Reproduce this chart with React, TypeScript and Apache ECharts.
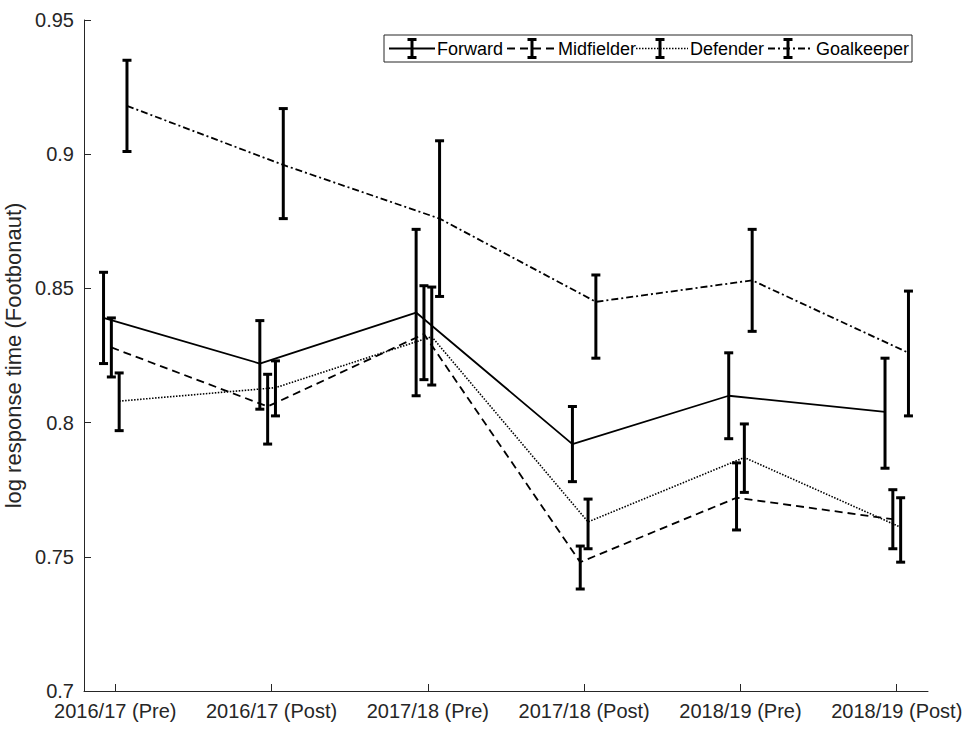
import React, { useEffect, useRef } from "react";
import * as echarts from "echarts";

const categories = [
  "2016/17 (Pre)",
  "2016/17 (Post)",
  "2017/18 (Pre)",
  "2017/18 (Post)",
  "2018/19 (Pre)",
  "2018/19 (Post)",
];

const seriesNames = ["Forward", "Midfielder", "Defender", "Goalkeeper"];
const offsets = [-0.075, -0.025, 0.025, 0.075];

const forwardMean = [0.839, 0.822, 0.841, 0.792, 0.810, 0.804];
const forwardLow = [0.822, 0.805, 0.810, 0.778, 0.794, 0.783];
const forwardHigh = [0.856, 0.838, 0.872, 0.806, 0.826, 0.824];

const midfielderMean = [0.828, 0.806, 0.833, 0.748, 0.772, 0.764];
const midfielderLow = [0.817, 0.792, 0.816, 0.738, 0.760, 0.753];
const midfielderHigh = [0.839, 0.818, 0.851, 0.754, 0.785, 0.775];

const defenderMean = [0.808, 0.813, 0.832, 0.763, 0.787, 0.761];
const defenderLow = [0.797, 0.8025, 0.814, 0.753, 0.774, 0.748];
const defenderHigh = [0.8185, 0.823, 0.8505, 0.7715, 0.7995, 0.772];

const goalkeeperMean = [0.918, 0.896, 0.876, 0.845, 0.853, 0.826];
const goalkeeperLow = [0.901, 0.876, 0.847, 0.824, 0.834, 0.8025];
const goalkeeperHigh = [0.935, 0.917, 0.905, 0.855, 0.872, 0.849];

const yTicks = [0.7, 0.75, 0.8, 0.85, 0.9, 0.95];

const FONT = "'Liberation Sans', Arial, Helvetica, sans-serif";
const dashes: (number[] | null)[] = [null, [8, 5], [1.5, 1.5], [7, 3, 2, 3]];
const widths = [1.8, 1.8, 1.6, 1.8];

const means = [forwardMean, midfielderMean, defenderMean, goalkeeperMean];
const lows = [forwardLow, midfielderLow, defenderLow, goalkeeperLow];
const highs = [forwardHigh, midfielderHigh, defenderHigh, goalkeeperHigh];

function lineStyleFor(i: number) {
  const d = dashes[i];
  return {
    color: "#000",
    width: widths[i],
    type: d ? (d as any) : "solid",
  };
}

function legendGraphics() {
  const items = [
    { x1: 389, x2: 435, bar: 412, text: 437 },
    { x1: 507, x2: 556, bar: 532, text: 558 },
    { x1: 636, x2: 688, bar: 660, text: 690 },
    { x1: 768, x2: 813, bar: 788, text: 816 },
  ];
  const cy = 48.5;
  const out: any[] = [
    {
      type: "rect",
      shape: { x: 384, y: 35, width: 528, height: 27 },
      style: { fill: "#fff", stroke: "#262626", lineWidth: 1 },
      z: 100,
    },
  ];
  items.forEach((it, i) => {
    const d = dashes[i];
    out.push({
      type: "line",
      shape: { x1: it.x1, y1: cy, x2: it.x2, y2: cy },
      style: { stroke: "#000", lineWidth: widths[i], lineDash: d || undefined },
      z: 101,
    });
    const bs = { stroke: "#000", lineWidth: 3 };
    out.push({ type: "line", shape: { x1: it.bar, y1: cy - 9, x2: it.bar, y2: cy + 9 }, style: bs, z: 102 });
    out.push({ type: "line", shape: { x1: it.bar - 4.5, y1: cy - 9, x2: it.bar + 4.5, y2: cy - 9 }, style: bs, z: 102 });
    out.push({ type: "line", shape: { x1: it.bar - 4.5, y1: cy + 9, x2: it.bar + 4.5, y2: cy + 9 }, style: bs, z: 102 });
    out.push({
      type: "text",
      x: it.text,
      y: cy,
      style: {
        text: seriesNames[i],
        fontSize: 18,
        fontFamily: FONT,
        fill: "#000",
        verticalAlign: "middle",
        align: "left",
      },
      z: 102,
    });
  });
  return out;
}

export default function App() {
  const ref = useRef<HTMLDivElement>(null);
  useEffect(() => {
    if (!ref.current) return;
    const chart = echarts.init(ref.current, undefined, { renderer: "svg" });
    const tickVals = categories.map((_, i) => i + 1);

    const lineSeries = seriesNames.map((name, s) => ({
      name,
      type: "line",
      data: means[s].map((v, i) => [i + 1 + offsets[s], v]),
      symbol: "none",
      lineStyle: lineStyleFor(s),
      z: 2,
    }));

    const errSeries = seriesNames.map((name, s) => ({
      name: name + " err",
      type: "custom",
      data: means[s].map((_, i) => [i + 1 + offsets[s], lows[s][i], highs[s][i]]),
      encode: { x: 0, y: [1, 2] },
      z: 3,
      renderItem: (params: any, api: any) => {
        const x = api.value(0);
        const p1 = api.coord([x, api.value(1)]);
        const p2 = api.coord([x, api.value(2)]);
        const hw = 4.5;
        const style = { stroke: "#000", lineWidth: 3, fill: "none" };
        return {
          type: "group",
          children: [
            { type: "line", shape: { x1: p1[0], y1: p1[1], x2: p2[0], y2: p2[1] }, style },
            { type: "line", shape: { x1: p1[0] - hw, y1: p1[1], x2: p1[0] + hw, y2: p1[1] }, style },
            { type: "line", shape: { x1: p2[0] - hw, y1: p2[1], x2: p2[0] + hw, y2: p2[1] }, style },
          ],
        };
      },
    }));

    chart.setOption({
      animation: false,
      backgroundColor: "#fff",
      grid: {
        left: 84,
        right: 38,
        top: 20,
        bottom: 38,
        containLabel: false,
        outerBoundsMode: "none",
      },
      xAxis: {
        type: "value",
        min: 0.8,
        max: 6.2,
        axisLine: { show: true, onZero: false, lineStyle: { color: "#262626", width: 1 } },
        axisTick: {
          show: true,
          inside: true,
          length: 7,
          customValues: tickVals,
          lineStyle: { color: "#262626" },
        },
        axisLabel: {
          customValues: tickVals,
          formatter: (v: number) => categories[Math.round(v) - 1] || "",
          fontSize: 20,
          fontFamily: FONT,
          color: "#262626",
          margin: 10,
        },
        splitLine: { show: false },
      },
      yAxis: {
        type: "value",
        min: 0.7,
        max: 0.95,
        interval: 0.05,
        name: "log response time (Footbonaut)",
        nameLocation: "middle",
        nameGap: 43,
        nameTextStyle: { fontSize: 22, fontFamily: FONT, color: "#262626" },
        axisLine: { show: true, lineStyle: { color: "#262626", width: 1 } },
        axisTick: { show: true, inside: true, length: 7, lineStyle: { color: "#262626" } },
        axisLabel: {
          fontSize: 20,
          fontFamily: FONT,
          color: "#262626",
          margin: 10,
          formatter: (v: number) => {
            const t = yTicks.find((y) => Math.abs(y - v) < 1e-6);
            return String(t !== undefined ? t : v);
          },
        },
        splitLine: { show: false },
      },
      series: [...lineSeries, ...errSeries],
      graphic: legendGraphics(),
    });
    return () => chart.dispose();
  }, []);
  return (
    <div
      ref={ref}
      style={{ position: "fixed", left: 0, top: 0, width: 966, height: 729 }}
    />
  );
}
